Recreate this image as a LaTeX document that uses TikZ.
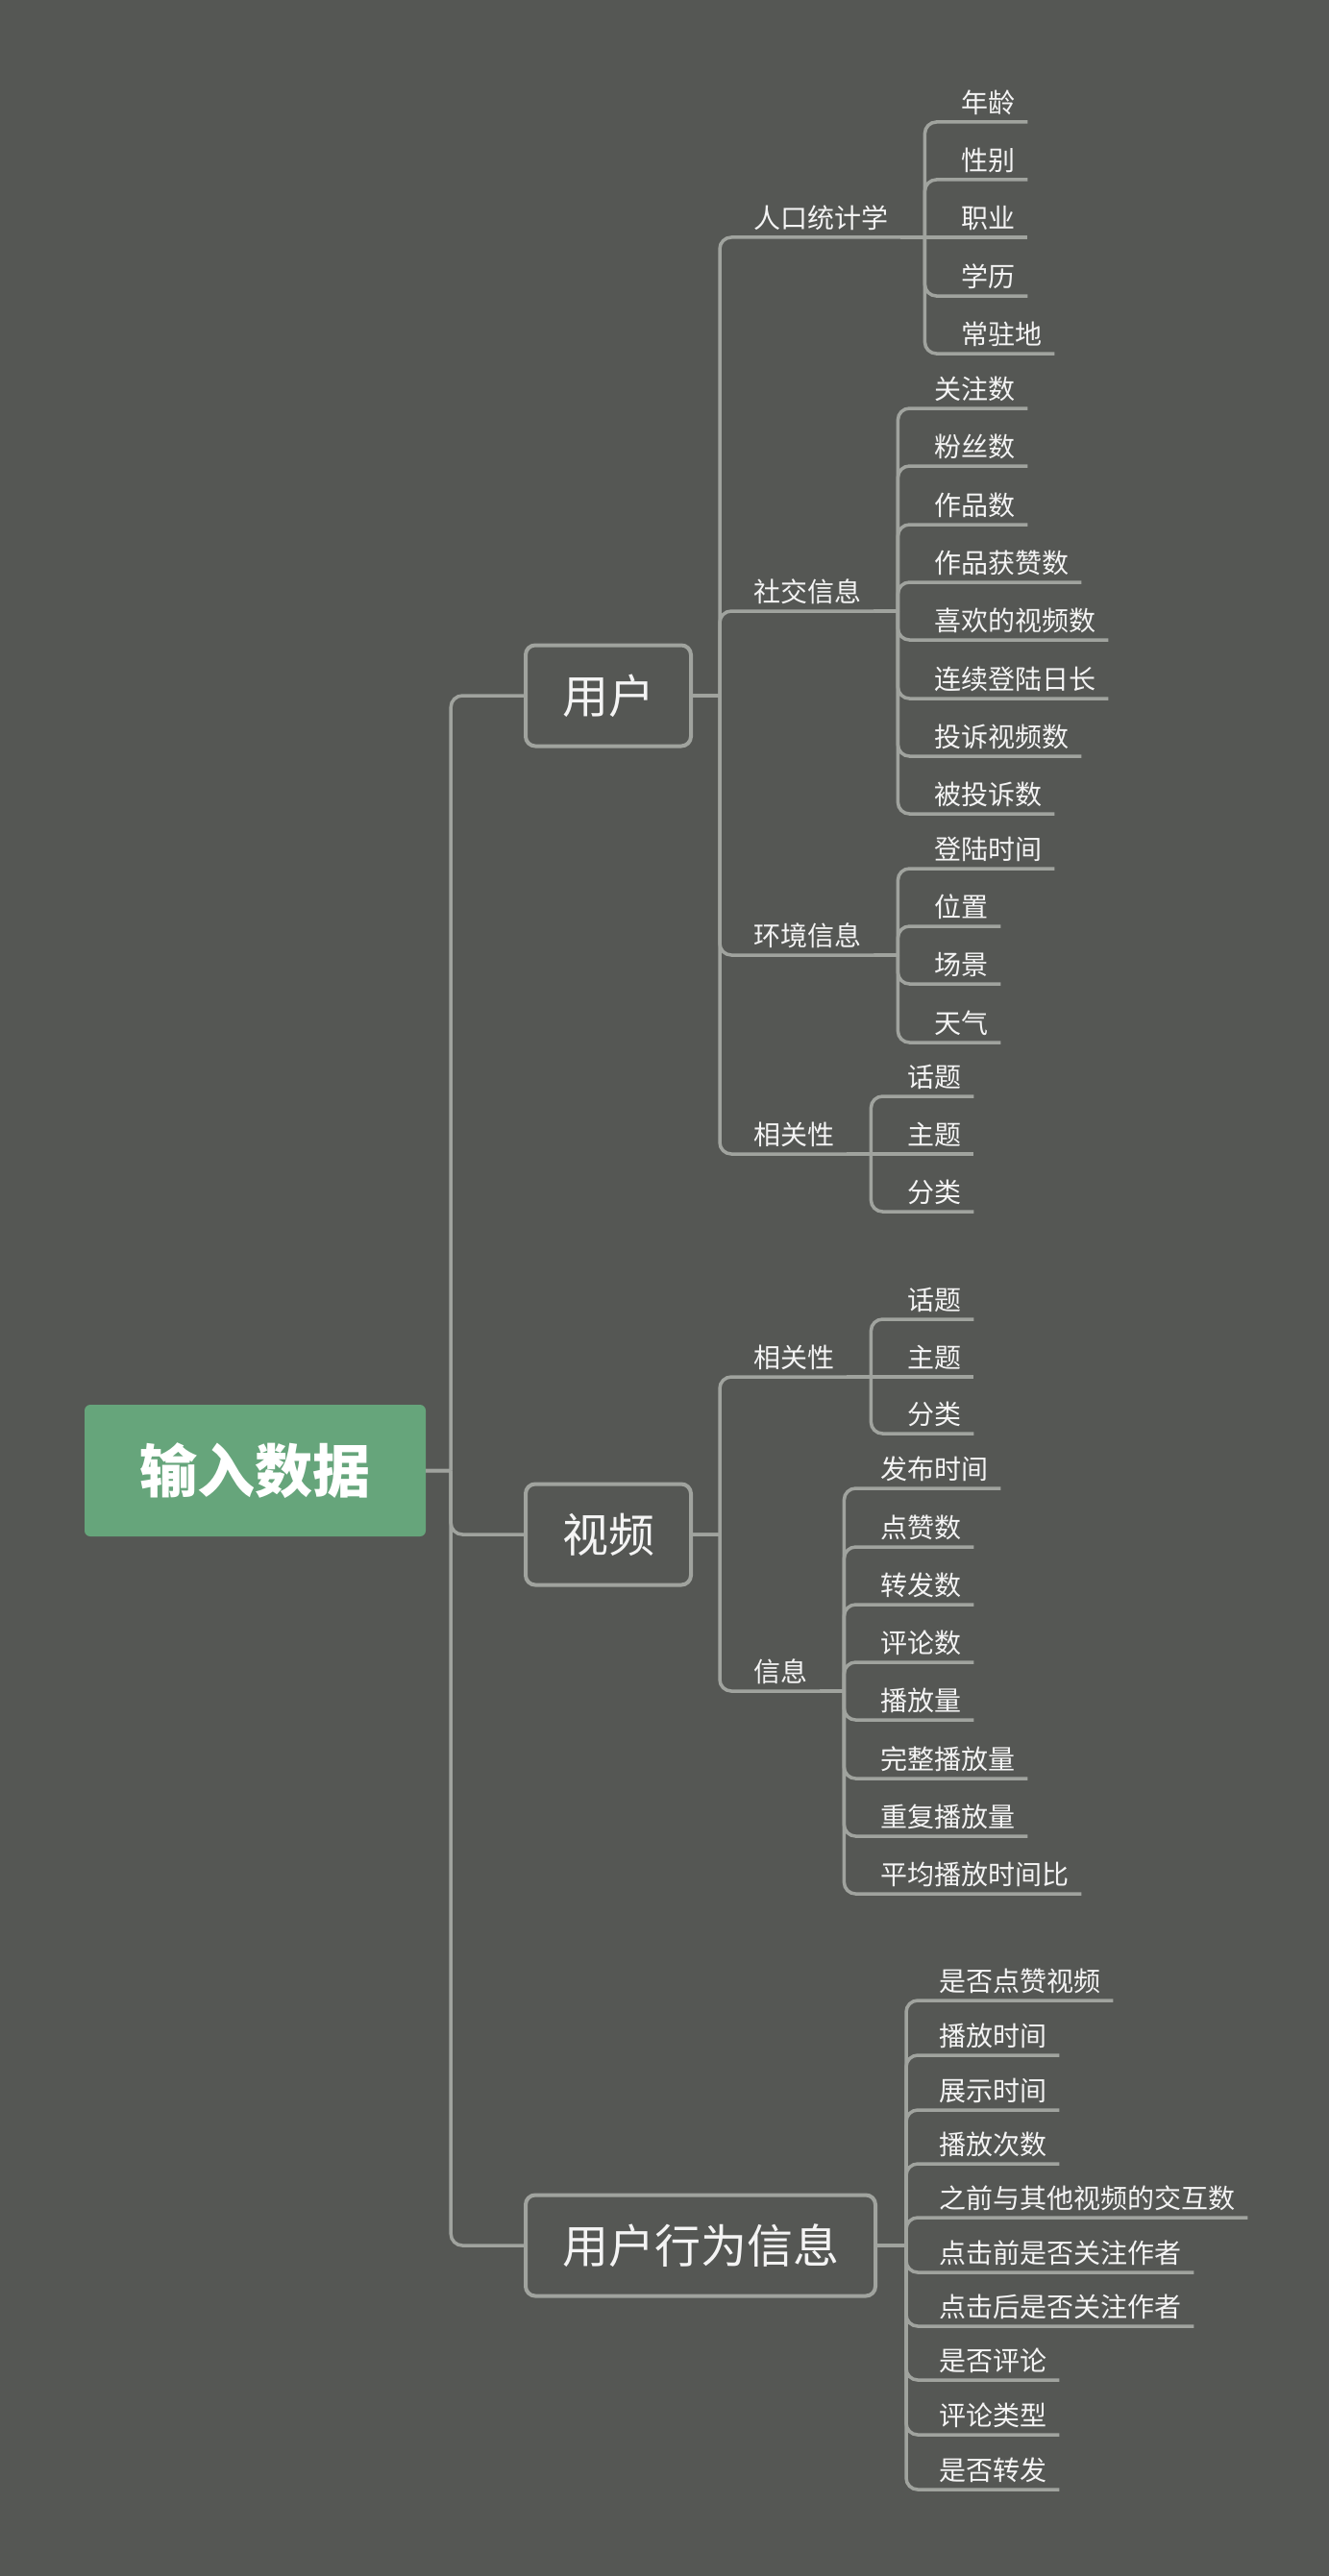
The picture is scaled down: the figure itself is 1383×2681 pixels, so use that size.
\documentclass[tikz,border=0pt]{standalone}
\usepackage{fontspec}
\setmainfont{Noto Sans CJK SC}
\definecolor{bgcol}{HTML}{555754}
\definecolor{linecol}{HTML}{A0A39E}
\definecolor{rootcol}{HTML}{66A57B}
\definecolor{txtcol}{HTML}{F4F4F4}
\tikzset{
    root/.style={fill=rootcol, rounded corners=6pt, text=white, font=\fontsize{60}{66}\selectfont\bfseries, minimum width=355pt, minimum height=137pt, inner sep=0pt},
    topic/.style={draw=linecol, line width=4pt, fill=bgcol, rounded corners=10pt, text=txtcol, font=\fontsize{48}{54}\selectfont, inner xsep=38pt, minimum height=105pt, anchor=west},
    item/.style={text=txtcol, font=\fontsize{28}{32}\selectfont, inner xsep=13pt, inner ysep=6.5pt, text height=22pt, text depth=3pt, anchor=south west},
    link/.style={draw=linecol, line width=3.5pt, rounded corners=12pt}
}

\begin{document}
\begin{tikzpicture}[x=1pt, y=-1pt]
    \fill [bgcol] (0, 0) rectangle (1383, 2681);

    \node [root] (input) at (265.5, 1530.5) {输入数据};
    \node [topic] (user) at (545, 724) {用户};
    \node [topic] (video) at (545, 1597) {视频};
    \node [topic] (action) at (545, 2337) {用户行为信息};

    \draw [link] (input.east) -- ++(26, 0) ++(0, 0) |- (user.west);
    \draw [link] (input.east) -- ++(26, 0) ++(0, 0) |- (video.west);
    \draw [link] (input.east) -- ++(26, 0) ++(0, 0) |- (action.west);

    \node [item] (demo) at (771, 247) {人口统计学};
    \node [item] (social) at (771, 636) {社交信息};
    \node [item] (env) at (771, 994) {环境信息};
    \node [item] (urel) at (771, 1201) {相关性};
    \draw [link] (user.east) -- ++(28, 0) ++(0, 0) |- (demo.south east);
    \draw [link] (user.east) -- ++(28, 0) ++(0, 0) |- (social.south east);
    \draw [link] (user.east) -- ++(28, 0) ++(0, 0) |- (env.south east);
    \draw [link] (user.east) -- ++(28, 0) ++(0, 0) |- (urel.south east);

    \node [item] (age) at (987, 127) {年龄};
    \node [item] (gender) at (987, 187) {性别};
    \node [item] (job) at (987, 247) {职业};
    \node [item] (edu) at (987, 308) {学历};
    \node [item] (home) at (987, 368) {常驻地};
    \draw [link] (demo.south east) -- ++(25, 0) ++(0, 0) |- (age.south east);
    \draw [link] (demo.south east) -- ++(25, 0) ++(0, 0) |- (gender.south east);
    \draw [link] (demo.south east) -- (job.south east);
    \draw [link] (demo.south east) -- ++(25, 0) ++(0, 0) |- (edu.south east);
    \draw [link] (demo.south east) -- ++(25, 0) ++(0, 0) |- (home.south east);

    \node [item] (follow) at (959, 425) {关注数};
    \node [item] (fans) at (959, 485) {粉丝数};
    \node [item] (works) at (959, 546) {作品数};
    \node [item] (praised) at (959, 606) {作品获赞数};
    \node [item] (liked) at (959, 666) {喜欢的视频数};
    \node [item] (login) at (959, 727) {连续登陆日长};
    \node [item] (report) at (959, 787) {投诉视频数};
    \node [item] (reported) at (959, 847) {被投诉数};
    \draw [link] (social.south east) -- ++(25, 0) ++(0, 0) |- (follow.south east);
    \draw [link] (social.south east) -- ++(25, 0) ++(0, 0) |- (fans.south east);
    \draw [link] (social.south east) -- ++(25, 0) ++(0, 0) |- (works.south east);
    \draw [link] (social.south east) -- ++(25, 0) ++(0, 0) |- (praised.south east);
    \draw [link] (social.south east) -- ++(25, 0) ++(0, 0) |- (liked.south east);
    \draw [link] (social.south east) -- ++(25, 0) ++(0, 0) |- (login.south east);
    \draw [link] (social.south east) -- ++(25, 0) ++(0, 0) |- (report.south east);
    \draw [link] (social.south east) -- ++(25, 0) ++(0, 0) |- (reported.south east);

    \node [item] (logtime) at (959, 904) {登陆时间};
    \node [item] (place) at (959, 964) {位置};
    \node [item] (scene) at (959, 1024) {场景};
    \node [item] (weather) at (959, 1085) {天气};
    \draw [link] (env.south east) -- ++(25, 0) ++(0, 0) |- (logtime.south east);
    \draw [link] (env.south east) -- ++(25, 0) ++(0, 0) |- (place.south east);
    \draw [link] (env.south east) -- ++(25, 0) ++(0, 0) |- (scene.south east);
    \draw [link] (env.south east) -- ++(25, 0) ++(0, 0) |- (weather.south east);

    \node [item] (utopic) at (931, 1141) {话题};
    \node [item] (utheme) at (931, 1201) {主题};
    \node [item] (uclass) at (931, 1261) {分类};
    \draw [link] (urel.south east) -- ++(25, 0) ++(0, 0) |- (utopic.south east);
    \draw [link] (urel.south east) -- (utheme.south east);
    \draw [link] (urel.south east) -- ++(25, 0) ++(0, 0) |- (uclass.south east);

    \node [item] (vrel) at (771, 1433) {相关性};
    \node [item] (vinfo) at (771, 1760) {信息};
    \draw [link] (video.east) -- ++(28, 0) ++(0, 0) |- (vrel.south east);
    \draw [link] (video.east) -- ++(28, 0) ++(0, 0) |- (vinfo.south east);

    \node [item] (vtopic) at (931, 1373) {话题};
    \node [item] (vtheme) at (931, 1433) {主题};
    \node [item] (vclass) at (931, 1492) {分类};
    \draw [link] (vrel.south east) -- ++(25, 0) ++(0, 0) |- (vtopic.south east);
    \draw [link] (vrel.south east) -- (vtheme.south east);
    \draw [link] (vrel.south east) -- ++(25, 0) ++(0, 0) |- (vclass.south east);

    \node [item] (pubtime) at (903, 1549) {发布时间};
    \node [item] (likes) at (903, 1610) {点赞数};
    \node [item] (shares) at (903, 1670) {转发数};
    \node [item] (comments) at (903, 1730) {评论数};
    \node [item] (plays) at (903, 1790) {播放量};
    \node [item] (fullplays) at (903, 1851) {完整播放量};
    \node [item] (replays) at (903, 1911) {重复播放量};
    \node [item] (ratio) at (903, 1971) {平均播放时间比};
    \draw [link] (vinfo.south east) -- ++(25, 0) ++(0, 0) |- (pubtime.south east);
    \draw [link] (vinfo.south east) -- ++(25, 0) ++(0, 0) |- (likes.south east);
    \draw [link] (vinfo.south east) -- ++(25, 0) ++(0, 0) |- (shares.south east);
    \draw [link] (vinfo.south east) -- ++(25, 0) ++(0, 0) |- (comments.south east);
    \draw [link] (vinfo.south east) -- ++(25, 0) ++(0, 0) |- (plays.south east);
    \draw [link] (vinfo.south east) -- ++(25, 0) ++(0, 0) |- (fullplays.south east);
    \draw [link] (vinfo.south east) -- ++(25, 0) ++(0, 0) |- (replays.south east);
    \draw [link] (vinfo.south east) -- ++(25, 0) ++(0, 0) |- (ratio.south east);

    \node [item] (didlike) at (964, 2082) {是否点赞视频};
    \node [item] (playtime) at (964, 2139) {播放时间};
    \node [item] (showtime) at (964, 2196) {展示时间};
    \node [item] (playcount) at (964, 2252) {播放次数};
    \node [item] (history) at (964, 2308) {之前与其他视频的交互数};
    \node [item] (before) at (964, 2365) {点击前是否关注作者};
    \node [item] (after) at (964, 2421) {点击后是否关注作者};
    \node [item] (didcomment) at (964, 2477) {是否评论};
    \node [item] (ctype) at (964, 2534) {评论类型};
    \node [item] (didshare) at (964, 2591) {是否转发};
    \draw [link] (action.east) -- ++(30, 0) ++(0, 0) |- (didlike.south east);
    \draw [link] (action.east) -- ++(30, 0) ++(0, 0) |- (playtime.south east);
    \draw [link] (action.east) -- ++(30, 0) ++(0, 0) |- (showtime.south east);
    \draw [link] (action.east) -- ++(30, 0) ++(0, 0) |- (playcount.south east);
    \draw [link] (action.east) -- ++(30, 0) ++(0, 0) |- (history.south east);
    \draw [link] (action.east) -- ++(30, 0) ++(0, 0) |- (before.south east);
    \draw [link] (action.east) -- ++(30, 0) ++(0, 0) |- (after.south east);
    \draw [link] (action.east) -- ++(30, 0) ++(0, 0) |- (didcomment.south east);
    \draw [link] (action.east) -- ++(30, 0) ++(0, 0) |- (ctype.south east);
    \draw [link] (action.east) -- ++(30, 0) ++(0, 0) |- (didshare.south east);

\end{tikzpicture}
\end{document}
